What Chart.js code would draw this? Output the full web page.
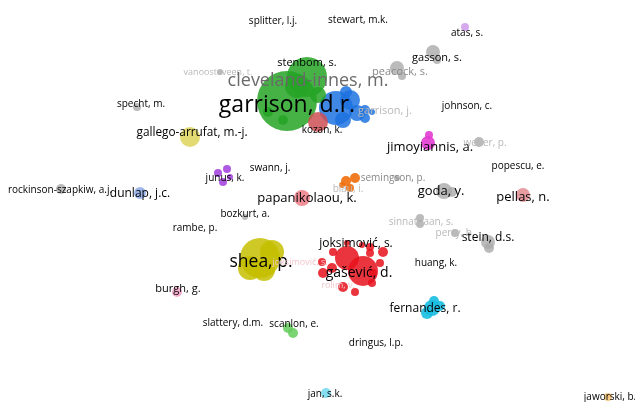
<!DOCTYPE html>
<html>
<head>
<meta charset="utf-8">
<script src="https://cdn.jsdelivr.net/npm/chart.js@4/dist/chart.umd.min.js"></script>
<style>
html,body{margin:0;padding:0;background:#fff;}
#wrap{width:635px;height:402px;position:relative;}
</style>
</head>
<body>
<div id="wrap"><canvas id="c" width="635" height="402"></canvas></div>
<script>
// ---- Data: node positions (map coords), weights, cluster ----
const nodeX = [287,307,297,283,268,318, 336,350,357,365,365,343,372,346, 318,
  347,363,333,322,323,332,343,355,370,370,383,380,373,372,362,347,
  260,272,250,264, 190, 227,218,223,230, 346,355,350,342, 302, 428,429,
  479,444,452,397,420,420,455,488,489,397,402,433,437,137,220,61,245,
  523, 432,427,434,440, 288,293, 326, 608, 177, 140, 465];
const nodeY = [101,77,86,120,112,95, 108,100,113,118,110,120,112,92, 122,
  258,271,252,262,273,268,287,292,247,253,252,263,273,283,245,243,
  258,252,268,270, 137, 169,173,182,177, 181,178,188,185, 198, 143,135,
  142,191,192,178,218,224,233,242,248,68,76,52,60,107,72,189,217,
  195, 308,313,301,306, 328,333, 393, 397, 292, 193, 27];
const nodeWeight = [30,20,12,5,5,8, 17,10,8,5,5,8,3,6, 10,
  12,15,4,4,5,5,5,4,4,4,5,4,4,4,3,3,
  20,12,12,11, 10, 4,4,4,3, 5,5,4,3, 8, 7,4,
  5,8,5,3,4,4,4,7,5,7,4,7,4,4,3,5,3,
  7, 8,6,5,5, 5,5, 5, 4, 5, 6, 4];
const nodeCluster = ["green","green","green","green","green","green",
  "blue","blue","blue","blue","blue","blue","blue","blue", "kozan",
  "red","red","red","red","red","red","red","red","red","red","red","red","red","red","red","red",
  "shea","shea","shea","shea", "gallego", "purple","purple","purple","purple",
  "orange","orange","orange","orange", "papan", "magenta","magenta",
  "gray","gray","gray","gray","gray","gray","gray","gray","gray","gray","gray","gray","gray","gray","gray","gray","gray",
  "pellas", "cyan","cyan","cyan","cyan", "lgreen","lgreen", "lcyan", "lorange", "pink", "lblue", "lpurple"];

// ---- Labels ----
const labelText = ["splitter, l.j.","stewart, m.k.","atas, s.","stenbom, s.","vanoosteveen, t.","cleveland-innes, m.",
  "garrison, d.r.","peacock, s.","gasson, s.","garrison, j.","johnson, c.","specht, m.","gallego-arrufat, m.-j.",
  "kozan, k.","jimoyiannis, a.","weber, p.","popescu, e.","swann, j.","junus, k.","semingson, p.","blau, i.",
  "rockinson-szapkiw, a.j.","dunlap, j.c.","papanikolaou, k.","goda, y.","pellas, n.","bozkurt, a.","rambe, p.",
  "sinnathaan, s.","perry, b.","stein, d.s.","joksimović, s.","shea, p.","joksimović, s.","huang, k.","gašević, d.","rolim, v.",
  "burgh, g.","fernandes, r.","slattery, d.m.","scanlon, e.","dringus, l.p.","jan, s.k.","jaworski, b."];
const labelX = [273,358,467,307,218,308, 287,400,437,385,467,141,192, 322,430,485,518,270,225,393,348,
  60,140,307,441,523,245,195, 421,455,488,356,261,300,436,359,338, 178,425,233,294,376,325,610];
const labelY = [21,20,33,63,72,81, 105,72,58,111,106,104,133, 130,147,143,166,168,178,178,189,
  190,194,198,191,197,214,228, 222,233,238,244,262,262,263,273,285, 289,309,323,324,343,394,397];
const labelWeight = [10,10,10,11,9,18, 23,11,11,11,10,10,11.8, 10,13,10,10,10,10,10,10,
  10,12,13,13,13,10,10, 10,10,12,12,17.5,9,10,14,9, 11,12,10,10,10,10,10];
const labelTone = ["k","k","k","k","f","g", "k","m","k","f","k","k","k", "k","k","f","k","k","k","m","f",
  "k","k","k","k","k","k","k", "f","f","k","k","k","p","k","k","p", "k","k","k","k","k","k","k"];

// ---- Styles ----
const clusterColor = {
  green:"rgba(38,165,38,0.85)", blue:"rgba(30,115,225,0.85)", kozan:"rgba(205,80,85,0.85)",
  red:"rgba(232,18,28,0.85)", shea:"rgba(198,192,0,0.85)", gallego:"rgba(222,212,90,0.85)",
  purple:"rgba(160,60,220,0.85)", orange:"rgba(240,110,10,0.9)", papan:"rgba(238,125,135,0.85)",
  magenta:"rgba(225,60,210,0.9)", gray:"rgba(170,170,170,0.8)", pellas:"rgba(225,140,145,0.85)",
  cyan:"rgba(25,190,225,0.9)", lgreen:"rgba(100,205,90,0.85)", lcyan:"rgba(120,220,240,0.9)",
  lorange:"rgba(245,195,120,0.9)", pink:"rgba(240,160,195,0.85)", lblue:"rgba(140,170,230,0.85)",
  lpurple:"rgba(210,160,235,0.9)"
};
const toneColor = {k:"#000000", g:"#6a6a6a", m:"#888888", f:"#b8b8b8", p:"#f2c6cc"};

const order = ["gray","lpurple","lblue","pink","lorange","lcyan","lgreen","cyan","pellas","magenta","papan","orange","purple","gallego","shea","red","kozan","green","blue"];
const datasets = order.map(cl => {
  const pts = [];
  nodeX.forEach((x,i) => { if (nodeCluster[i] === cl) pts.push({x:x, y:nodeY[i], r:nodeWeight[i]}); });
  return {label:cl, data:pts, backgroundColor:clusterColor[cl], borderWidth:0, hoverRadius:0, clip:false};
});

const labelPlugin = {
  id:"labels",
  afterDatasetsDraw(chart){
    const ctx = chart.ctx, xs = chart.scales.x, ys = chart.scales.y;
    ctx.save();
    ctx.textAlign = "center";
    ctx.textBaseline = "middle";
    labelText.forEach((t,i) => {
      ctx.font = labelWeight[i] + "px 'Open Sans', 'Noto Sans', sans-serif";
      ctx.fillStyle = toneColor[labelTone[i]];
      ctx.fillText(t, xs.getPixelForValue(labelX[i]), ys.getPixelForValue(labelY[i]));
    });
    ctx.restore();
  }
};

new Chart(document.getElementById("c"), {
  type:"bubble",
  data:{datasets},
  options:{
    responsive:false, animation:false, devicePixelRatio:1,
    layout:{padding:0, autoPadding:false},
    plugins:{legend:{display:false}, tooltip:{enabled:false}},
    scales:{
      x:{type:"linear", min:0, max:635, display:false},
      y:{type:"linear", min:0, max:402, reverse:true, display:false}
    }
  },
  plugins:[labelPlugin]
});
</script>
</body>
</html>
